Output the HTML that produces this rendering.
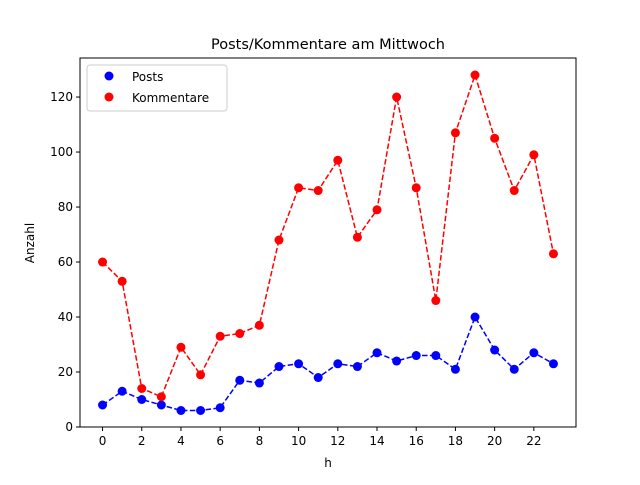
<!DOCTYPE html>
<html><head><meta charset="utf-8"><style>body{margin:0;background:#fff}svg{font-family:"DejaVu Sans","Liberation Sans",sans-serif}</style></head>
<body>
<svg id="c" width="640" height="480" xmlns="http://www.w3.org/2000/svg"></svg>
<script>
const hours=[0,1,2,3,4,5,6,7,8,9,10,11,12,13,14,15,16,17,18,19,20,21,22,23];
const posts=[8,13,10,8,6,6,7,17,16,22,23,18,23,22,27,24,26,26,21,40,28,21,27,23];
const kommentare=[60,53,14,11,29,19,33,34,37,68,87,86,97,69,79,120,87,46,107,128,105,86,99,63];
const xTicks=[0,2,4,6,8,10,12,14,16,18,20,22];
const yTicks=[0,20,40,60,80,100,120];
const L=80,R=576,T=58,B=427,x0=-1.15,x1=24.15,y0=0,y1=134.2;
const sx=v=>L+(v-x0)/(x1-x0)*(R-L), sy=v=>B-(v-y0)/(y1-y0)*(B-T);
const svg=document.getElementById('c'),NS='http://www.w3.org/2000/svg';
function el(t,a,txt){const e=document.createElementNS(NS,t);for(const k in a)e.setAttribute(k,a[k]);if(txt!==undefined)e.textContent=txt;svg.appendChild(e);return e;}
let e;
e=el('text',{x:328,y:49,'font-size':14.5,'text-anchor':'middle'},'Posts/Kommentare am Mittwoch');

xTicks.forEach(v=>{e=el('line',{x1:sx(v),x2:sx(v),y1:B,y2:B+4,stroke:'#000'});
e=el('text',{x:sx(v),y:B+18,'font-size':12,'text-anchor':'middle'},v);});
yTicks.forEach(v=>{e=el('line',{x1:L-4,x2:L,y1:sy(v),y2:sy(v),stroke:'#000'});
e=el('text',{x:L-7,y:sy(v)+4,'font-size':12,'text-anchor':'end'},v);});
e=el('text',{x:328,y:467,'font-size':12,'text-anchor':'middle'},'h');
e=el('text',{x:34,y:243,'font-size':12,'text-anchor':'middle',transform:'rotate(-90 34 243)'},'Anzahl');
function series(vals,col,name){
 e=el('polyline',{points:hours.map((h,i)=>sx(h)+','+sy(vals[i])).join(' '),fill:'none',stroke:col,'stroke-width':1.5,'stroke-dasharray':'5.5,2.4'});
 
 hours.forEach((h,i)=>{e=el('circle',{cx:sx(h),cy:sy(vals[i]),r:4.5,fill:col});});
}
series(posts,'#0000ff','posts');series(kommentare,'#ff0000','kommentare');
e=el('rect',{x:L,y:T,width:R-L,height:B-T,fill:'none',stroke:'#000','stroke-width':1});
e=el('rect',{x:87,y:65,width:140,height:46,rx:3,fill:'#fff',stroke:'#ccc','fill-opacity':0.8});
e=el('circle',{cx:109,cy:76,r:4.5,fill:'#0000ff'});
e=el('text',{x:132,y:81,'font-size':12},'Posts');
e=el('circle',{cx:109,cy:97,r:4.5,fill:'#ff0000'});
e=el('text',{x:132,y:102,'font-size':12},'Kommentare');
</script>
</body></html>
